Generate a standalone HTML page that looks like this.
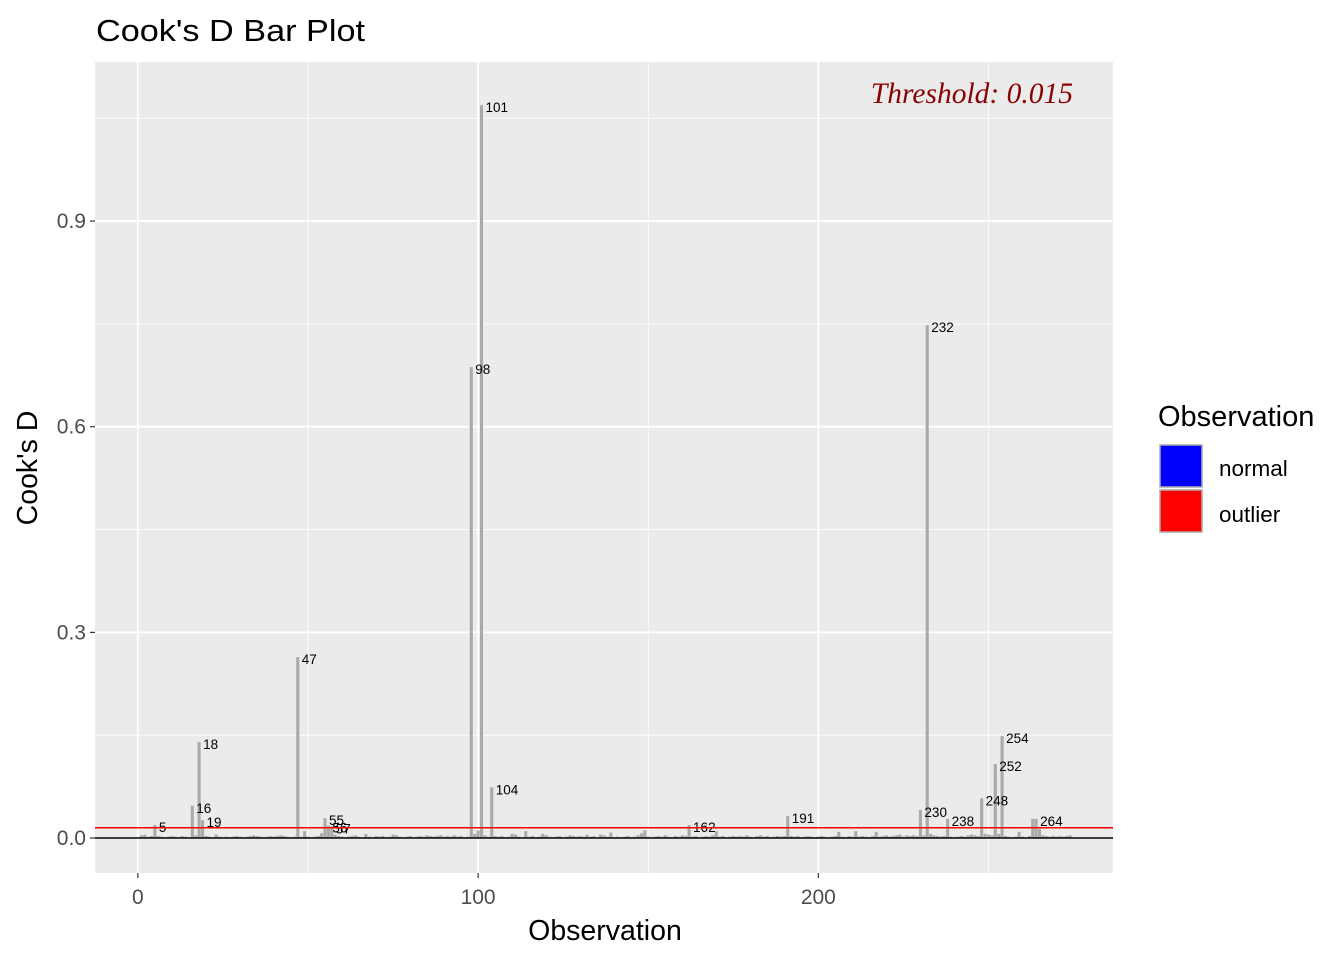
<!DOCTYPE html>
<html><head><meta charset="utf-8"><style>
body{margin:0;background:#fff;font-family:"Liberation Sans",sans-serif;}
</style></head><body>
<svg id="chart" width="1344" height="960" xmlns="http://www.w3.org/2000/svg">
<text x="96" y="41" font-size="31" textLength="269" lengthAdjust="spacingAndGlyphs" fill="#000">Cook's D Bar Plot</text>
<rect x="95" y="62" width="1018" height="811" fill="#ebebeb"/>
<g id="grid"></g>
<g id="bars"></g>
<g id="labels"></g>
<g id="axes"></g>
<text x="1073" y="103" text-anchor="end" font-family="Liberation Serif, serif" font-style="italic" font-size="29.5" fill="#8b0000">Threshold: 0.015</text>
<text x="605" y="940" text-anchor="middle" font-size="28.5">Observation</text>
<text transform="translate(37,468) rotate(-90)" text-anchor="middle" font-size="28.5">Cook's D</text>
<g>
<text x="1158" y="426" font-size="29">Observation</text>
<rect x="1160" y="445" width="42" height="42" fill="#0000ff" stroke="#aaa" stroke-width="1.5"/>
<text x="1219" y="476" font-size="22.5">normal</text>
<rect x="1160" y="490" width="42" height="42" fill="#ff0000" stroke="#aaa" stroke-width="1.5"/>
<text x="1219" y="522" font-size="22.5">outlier</text>
</g>
</svg>
<script>
const threshold = 0.015;
const xTicks = [0, 100, 200];
const yTicks = [0.0, 0.3, 0.6, 0.9];
const yTickLabels = ["0.0", "0.3", "0.6", "0.9"];
const cooksD = [
0.004,0.005,0.002,0.003,0.019,0.003,0.002,0.001,0.002,0.003,
0.002,0.001,0.003,0.002,0.001,0.047,0.004,0.140,0.026,0.003,
0.002,0.001,0.005,0.002,0.001,0.002,0.001,0.002,0.003,0.002,
0.001,0.002,0.003,0.004,0.003,0.002,0.001,0.002,0.003,0.002,
0.003,0.004,0.003,0.002,0.001,0.002,0.264,0.002,0.010,0.002,
0.001,0.002,0.003,0.007,0.029,0.018,0.017,0.005,0.003,0.002,
0.001,0.002,0.003,0.004,0.002,0.001,0.006,0.002,0.001,0.003,
0.002,0.003,0.001,0.002,0.005,0.004,0.002,0.001,0.002,0.003,
0.001,0.002,0.003,0.002,0.004,0.003,0.002,0.003,0.004,0.002,
0.003,0.002,0.004,0.002,0.003,0.001,0.002,0.687,0.006,0.011,
1.069,0.004,0.002,0.074,0.003,0.002,0.003,0.001,0.002,0.006,
0.005,0.002,0.001,0.010,0.002,0.003,0.001,0.002,0.006,0.004,
0.002,0.001,0.002,0.003,0.001,0.002,0.004,0.003,0.002,0.003,
0.002,0.005,0.002,0.003,0.001,0.005,0.004,0.002,0.008,0.001,
0.002,0.001,0.002,0.003,0.001,0.002,0.004,0.007,0.011,0.002,
0.001,0.002,0.003,0.002,0.004,0.002,0.001,0.003,0.002,0.004,
0.003,0.019,0.002,0.003,0.001,0.002,0.003,0.002,0.004,0.010,
0.002,0.003,0.001,0.002,0.003,0.002,0.003,0.002,0.004,0.002,
0.001,0.003,0.004,0.002,0.003,0.001,0.002,0.003,0.002,0.003,
0.032,0.003,0.002,0.003,0.001,0.002,0.003,0.002,0.001,0.002,
0.003,0.002,0.001,0.002,0.003,0.009,0.002,0.001,0.003,0.002,
0.010,0.002,0.003,0.002,0.001,0.003,0.009,0.002,0.003,0.004,
0.002,0.003,0.004,0.005,0.002,0.004,0.003,0.004,0.003,0.041,
0.004,0.748,0.006,0.004,0.003,0.002,0.003,0.028,0.002,0.001,
0.002,0.003,0.002,0.004,0.005,0.004,0.003,0.058,0.006,0.005,
0.004,0.108,0.006,0.149,0.003,0.002,0.001,0.002,0.009,0.002,
0.001,0.003,0.028,0.028,0.013,0.004,0.003,0.002,0.003,0.002,
0.003,0.002,0.003,0.004
];
const labelIds = [5,16,18,19,47,55,56,57,98,101,104,162,191,230,232,238,248,252,254,264];

const NS = "http://www.w3.org/2000/svg";
const X0 = 95, X1 = 1113, Y0 = 62, Y1 = 873;
const xMin = -12.6, xMax = 286.6, yMin = -0.051, yMax = 1.132;
function xs(v){ return X0 + (v - xMin) / (xMax - xMin) * (X1 - X0); }
function ys(v){ return Y1 - (v - yMin) / (yMax - yMin) * (Y1 - Y0); }
function mk(tag, attrs, parent){ const e = document.createElementNS(NS, tag); for (const k in attrs) e.setAttribute(k, attrs[k]); parent.appendChild(e); return e; }

const grid = document.getElementById("grid");
[50,150,250].forEach(v => { const l = mk("line", {x1: xs(v), x2: xs(v), y1: Y0, y2: Y1, stroke: "#fff", "stroke-width": 0.8}, grid);

 });
[0.15,0.45,0.75,1.05].forEach(v => { const l = mk("line", {x1: X0, x2: X1, y1: ys(v), y2: ys(v), stroke: "#fff", "stroke-width": 0.8}, grid);

 });
xTicks.forEach(v => { const l = mk("line", {x1: xs(v), x2: xs(v), y1: Y0, y2: Y1, stroke: "#fff", "stroke-width": 1.8}, grid);

 });
yTicks.forEach(v => { const l = mk("line", {x1: X0, x2: X1, y1: ys(v), y2: ys(v), stroke: "#fff", "stroke-width": 1.8}, grid);

 });

const bars = document.getElementById("bars");
const bw = (xs(1) - xs(0)) * 0.9;
cooksD.forEach((d, i) => {
  const obs = i + 1;
  const r = mk("rect", {x: xs(obs) - bw/2, y: ys(d), width: bw, height: Math.max(0, ys(0) - ys(d)), fill: "#a9a9a9"}, bars);
  
  
});

const labels = document.getElementById("labels");
labelIds.forEach(id => {
  const d = cooksD[id - 1];
  const t = mk("text", {x: xs(id) + 4, y: ys(d) + 7, "font-size": 13.5, fill: "#000"}, labels);
  t.textContent = id;
  
  
});

const axes = document.getElementById("axes");
const z = mk("line", {x1: X0, x2: X1, y1: ys(0), y2: ys(0), stroke: "#000", "stroke-width": 1.5}, axes);


const th = mk("line", {x1: X0, x2: X1, y1: ys(threshold), y2: ys(threshold), stroke: "#ff0000", "stroke-width": 1.5}, axes);


xTicks.forEach(v => {
  const tk = mk("line", {x1: xs(v), x2: xs(v), y1: Y1, y2: Y1 + 5, stroke: "#333", "stroke-width": 1.2}, axes);
  
  
  const t = mk("text", {x: xs(v), y: Y1 + 31, "text-anchor": "middle", "font-size": 21, fill: "#4d4d4d"}, axes);
  t.textContent = v;
  
  
});
yTicks.forEach((v, i) => {
  const tk = mk("line", {x1: X0 - 5, x2: X0, y1: ys(v), y2: ys(v), stroke: "#333", "stroke-width": 1.2}, axes);
  
  
  const t = mk("text", {x: X0 - 9, y: ys(v) + 7, "text-anchor": "end", "font-size": 21, fill: "#4d4d4d"}, axes);
  t.textContent = yTickLabels[i];
  
  
});
</script>
</body></html>
